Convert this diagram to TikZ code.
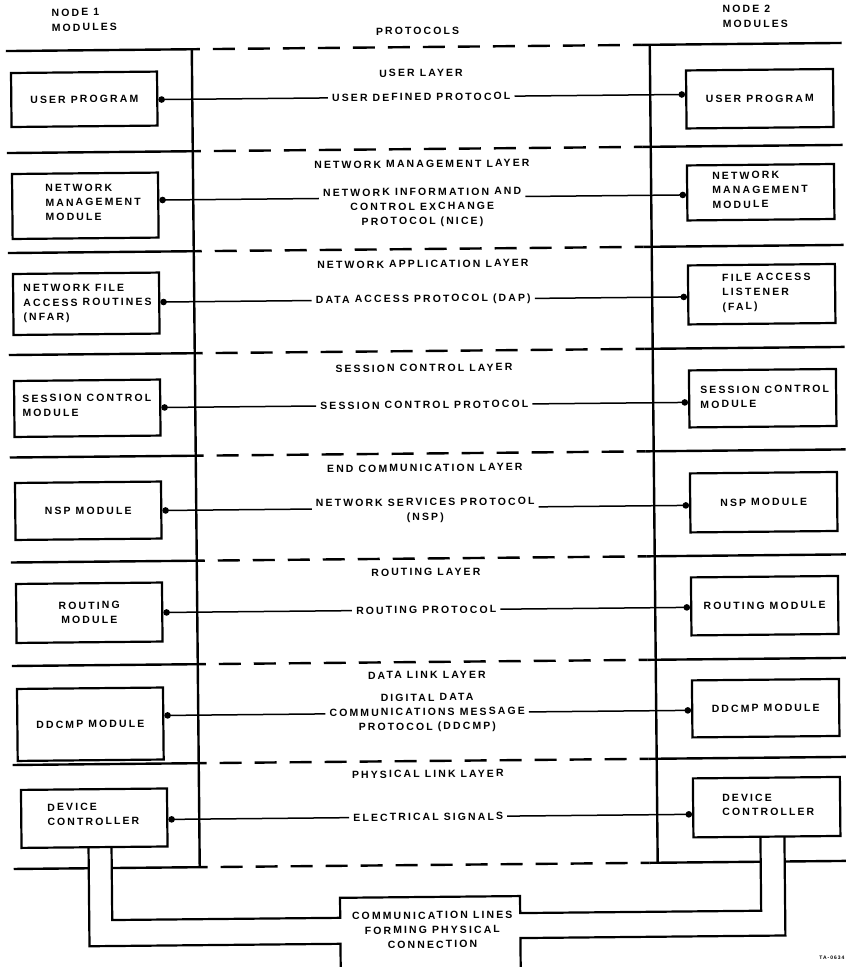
\documentclass[tikz,border=0pt]{standalone}
\usepackage{fontspec}
\newfontfamily\lblfont[LetterSpace=20]{Liberation Sans}
\usetikzlibrary{arrows.meta}

\tikzset{
  txtfont/.style={font=\lblfont\bfseries\fontsize{10.5}{14.5}\selectfont},
  sepline/.style={line width=2.4pt},
  sepdash/.style={line width=2.4pt, dash pattern=on 22pt off 13pt, dash phase=22pt},
  modbox/.style={draw, line width=2.2pt, inner sep=0pt, txtfont, align=center},
  boxtext/.style={txtfont, align=left, inner sep=0pt, anchor=west},
  protolbl/.style={txtfont, align=center, inner xsep=4pt, inner ysep=0pt},
  layerlbl/.style={txtfont, inner sep=0pt},
  link/.style={line width=1.5pt, -{Circle[length=6.5pt]}},
  cable/.style={line width=2.2pt, line join=miter},
}

\begin{document}
\begin{tikzpicture}[x=1pt,y=-1pt]
\useasboundingbox (0,0) rectangle (846,967);
\clip (0,0) rectangle (846,967);
\begin{scope}[rotate around={0.556:(423,483)}, transform shape]

% column headings
\node[boxtext] (n1) at (56,9) {NODE 1};
\node[boxtext] (m1) at (56,24) {MODULES};
\node[layerlbl] (proto) at (422,31) {PROTOCOLS};
\node[boxtext] (n2) at (727,12) {NODE 2};
\node[boxtext] (m2) at (727,27) {MODULES};

% layer boundaries: solid under the module columns, dashed across the protocol column
\foreach \y in {47,149,249,351,453.5,558.5,662,761} {
  \draw[sepline] (10,\y) -- (204,\y);
  \draw[sepdash] (204,\y) -- (646,\y);
  \draw[sepline] (646,\y) -- (846,\y);
}
% bottom boundary, interrupted where the line pairs pass through
\draw[sepline] (10,865) -- (85,865);
\draw[sepline] (108,865) -- (204,865);
\draw[sepdash] (204,865) -- (646,865);
\draw[sepline] (646,865) -- (757,865);
\draw[sepline] (781,865) -- (846,865);

% column dividers
\draw[sepline] (196,47) -- (196,865);
\draw[sepline] (654,47) -- (654,865);

% layer names
\node[layerlbl] (lay1) at (425,73) {USER LAYER};
\node[layerlbl] (lay2) at (425,164) {NETWORK MANAGEMENT LAYER};
\node[layerlbl] (lay3) at (425,264) {NETWORK APPLICATION LAYER};
\node[layerlbl] (lay4) at (425,368) {SESSION CONTROL LAYER};
\node[layerlbl] (lay5) at (425,468) {END COMMUNICATION LAYER};
\node[layerlbl] (lay6) at (425,572) {ROUTING LAYER};
\node[layerlbl] (lay7) at (425,675) {DATA LINK LAYER};
\node[layerlbl] (lay8) at (425,774) {PHYSICAL LINK LAYER};

% node 1 modules
\node[modbox, minimum width=146pt, minimum height=54pt] (lup) at (88,96) {USER PROGRAM};
\node[modbox, minimum width=146pt, minimum height=65pt] (lnm) at (88,202.5) {};
\node[boxtext] (lnm-t) at (48,199) {NETWORK\\MANAGEMENT\\MODULE};
\node[modbox, minimum width=146pt, minimum height=61pt] (lnf) at (88,300.5) {};
\node[boxtext] (lnf-t) at (25,300) {NETWORK FILE\\ACCESS ROUTINES\\(NFAR)};
\node[modbox, minimum width=146pt, minimum height=56pt] (lsc) at (88,405) {};
\node[boxtext] (lsc-t) at (23,402) {SESSION CONTROL\\MODULE};
\node[modbox, minimum width=146pt, minimum height=57pt] (lnsp) at (88,507.5) {NSP MODULE};
\node[modbox, minimum width=146pt, minimum height=59pt] (lrt) at (88,609.5) {ROUTING\\MODULE};
\node[modbox, minimum width=146pt, minimum height=72pt] (ldd) at (88,721) {DDCMP MODULE};
\node[modbox, minimum width=146pt, minimum height=58pt] (ldc) at (91,815) {};
\node[boxtext] (ldc-t) at (44,811) {DEVICE\\CONTROLLER};

% node 2 modules
\node[modbox, minimum width=147pt, minimum height=58pt] (rup) at (763.5,102) {USER PROGRAM};
\node[modbox, minimum width=147pt, minimum height=55pt] (rnm) at (763.5,195.5) {};
\node[boxtext] (rnm-t) at (715,193) {NETWORK\\MANAGEMENT\\MODULE};
\node[modbox, minimum width=147pt, minimum height=59pt] (rfa) at (763.5,297.5) {};
\node[boxtext] (rfa-t) at (724,296) {FILE ACCESS\\LISTENER\\(FAL)};
\node[modbox, minimum width=147pt, minimum height=57pt] (rsc) at (763.5,401.5) {};
\node[boxtext] (rsc-t) at (701,400) {SESSION CONTROL\\MODULE};
\node[modbox, minimum width=147pt, minimum height=59pt] (rnsp) at (763.5,505.5) {NSP MODULE};
\node[modbox, minimum width=147pt, minimum height=58pt] (rrt) at (763.5,609) {ROUTING MODULE};
\node[modbox, minimum width=147pt, minimum height=57pt] (rdd) at (763.5,711.5) {DDCMP MODULE};
\node[modbox, minimum width=147pt, minimum height=59pt] (rdc) at (763.5,810.5) {};
\node[boxtext] (rdc-t) at (719,808) {DEVICE\\CONTROLLER};

% protocols between peer modules
\node[protolbl] (pu) at (425,97) {USER DEFINED PROTOCOL};
\node[protolbl] (pnice) at (425,207.5) {NETWORK INFORMATION AND\\CONTROL EXCHANGE\\PROTOCOL (NICE)};
\node[protolbl] (pdap) at (425,299.5) {DATA ACCESS PROTOCOL (DAP)};
\node[protolbl] (psc) at (425,405) {SESSION CONTROL PROTOCOL};
\node[protolbl] (pnsp) at (425,510.5) {NETWORK SERVICES PROTOCOL\\(NSP)};
\node[protolbl] (prt) at (425,610) {ROUTING PROTOCOL};
\node[protolbl] (pdd) at (425,713) {DIGITAL DATA\\COMMUNICATIONS MESSAGE\\PROTOCOL (DDCMP)};
\node[protolbl] (pel) at (425,817) {ELECTRICAL SIGNALS};

\coordinate (ynice) at (425,197.5);
\coordinate (ynsp) at (425,508);

\draw[link] (pu.west) -- (lup.east |- pu.west);
\draw[link] (pu.east) -- (rup.west |- pu.east);
\draw[link] (pnice.west |- ynice) -- (lnm.east |- ynice);
\draw[link] (pnice.east |- ynice) -- (rnm.west |- ynice);
\draw[link] (pdap.west) -- (lnf.east |- pdap.west);
\draw[link] (pdap.east) -- (rfa.west |- pdap.east);
\draw[link] (psc.west) -- (lsc.east |- psc.west);
\draw[link] (psc.east) -- (rsc.west |- psc.east);
\draw[link] (pnsp.west |- ynsp) -- (lnsp.east |- ynsp);
\draw[link] (pnsp.east |- ynsp) -- (rnsp.west |- ynsp);
\draw[link] (prt.west) -- (lrt.east |- prt.west);
\draw[link] (prt.east) -- (rrt.west |- prt.east);
\draw[link] (pdd.west) -- (ldd.east |- pdd.west);
\draw[link] (pdd.east) -- (rdd.west |- pdd.east);
\draw[link] (pel.west) -- (ldc.east |- pel.west);
\draw[link] (pel.east) -- (rdc.west |- pel.east);

% communication lines forming the physical connection
\node[txtfont, align=center, inner sep=0pt] (comm) at (428,930) {COMMUNICATION LINES\\FORMING PHYSICAL\\CONNECTION};
\draw[cable] (85,844) |- (336,943) -- (336,980);
\draw[cable] (108,844) |- (336,917) -- (336,897) -- (516,897) -- (516,914) -| (757,840);
\draw[cable] (781,840) |- (516,939) -- (516,980);

\node[font=\lblfont\bfseries\fontsize{5}{6}\selectfont, anchor=east, inner sep=0pt] (ref) at (840,962) {TA-0634};

\end{scope}
\end{tikzpicture}
\end{document}
